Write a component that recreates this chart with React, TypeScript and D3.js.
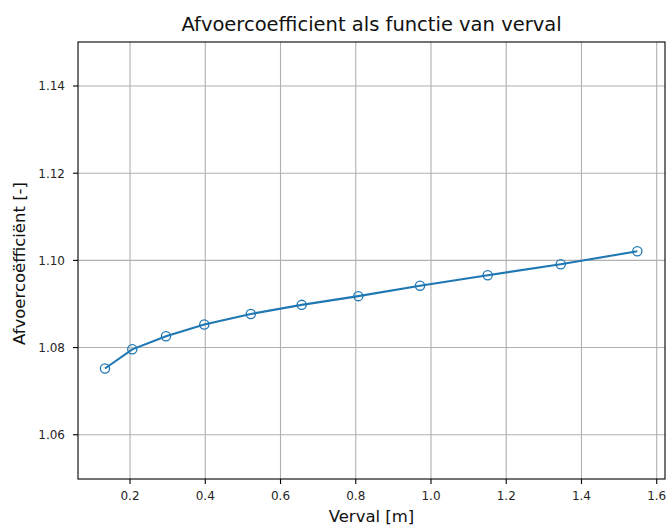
import React from "react";
import * as d3 from "d3";

const verval = [0.1334, 0.206, 0.2956, 0.3974, 0.521, 0.6563, 0.8068, 0.9708, 1.1507, 1.3448, 1.5484];
const afvoer = [1.0752, 1.0796, 1.0826, 1.0853, 1.0877, 1.0898, 1.0918, 1.0942, 1.0966, 1.0991, 1.1021];
const xTicks = [0.2, 0.4, 0.6, 0.8, 1.0, 1.2, 1.4, 1.6];
const yTicks = [1.06, 1.08, 1.1, 1.12, 1.14];

const W = 667, H = 525;
const M = { left: 78, right: 665, top: 42, bottom: 479 };
const FONT = "DejaVu Sans, sans-serif";
const BLUE = "#1f77b4";

export default function App() {
  const x = d3.scaleLinear().domain([0.0617, 1.622]).range([M.left, M.right]);
  const y = d3.scaleLinear().domain([1.04985, 1.1501]).range([M.bottom, M.top]);
  const pts = verval.map((v, i) => [v, afvoer[i]] as [number, number]);
  const line = d3.line<[number, number]>().x(d => x(d[0])).y(d => y(d[1]));

  return (
    <svg width={W} height={H} style={{ position: "absolute", left: 0, top: 0, background: "#fff" }}>
      <rect x={0} y={0} width={W} height={H} fill="#fff" />
      {/* grid */}
      {xTicks.map(t => (
        <line key={"gx" + t} x1={x(t)} x2={x(t)} y1={M.top} y2={M.bottom} stroke="#b0b0b0" strokeWidth={1.1} />
      ))}
      {yTicks.map(t => (
        <line key={"gy" + t} x1={M.left} x2={M.right} y1={y(t)} y2={y(t)} stroke="#b0b0b0" strokeWidth={1.1} />
      ))}
      {/* data */}
      <path d={line(pts) || ""} fill="none" stroke={BLUE} strokeWidth={2.1} />
      {pts.map((p, i) => (
        <circle key={"c" + i} cx={x(p[0])} cy={y(p[1])} r={4.6} fill="none" stroke={BLUE} strokeWidth={1.3} />
      ))}
      {/* frame */}
      <rect x={M.left} y={M.top} width={M.right - M.left} height={M.bottom - M.top} fill="none" stroke="#000" strokeWidth={1.1} />
      {/* x ticks */}
      {xTicks.map(t => (
        <g key={"xt" + t}>
          <line x1={x(t)} x2={x(t)} y1={M.bottom} y2={M.bottom + 5} stroke="#000" strokeWidth={1.1} />
          <text x={x(t)} y={500} textAnchor="middle" fontFamily={FONT} fontSize={12} fill="#262626">
            {d3.format(".1f")(t)}
          </text>
        </g>
      ))}
      {/* y ticks */}
      {yTicks.map(t => (
        <g key={"yt" + t}>
          <line x1={M.left - 5} x2={M.left} y1={y(t)} y2={y(t)} stroke="#000" strokeWidth={1.1} />
          <text x={65} y={y(t)} dy="0.36em" textAnchor="end" fontFamily={FONT} fontSize={12} fill="#262626">
            {d3.format(".2f")(t)}
          </text>
        </g>
      ))}
      <text x={(M.left + M.right) / 2} y={31} textAnchor="middle" fontFamily={FONT} fontSize={19.5} fill="#111">
        Afvoercoefficient als functie van verval
      </text>
      <text x={(M.left + M.right) / 2} y={522} textAnchor="middle" fontFamily={FONT} fontSize={16.5} fill="#111">
        Verval [m]
      </text>
      <text transform={`translate(25, ${(M.top + M.bottom) / 2 + 3}) rotate(-90)`} textAnchor="middle" fontFamily={FONT} fontSize={16.5} fill="#111">
        Afvoercoëfficiënt [-]
      </text>
    </svg>
  );
}
